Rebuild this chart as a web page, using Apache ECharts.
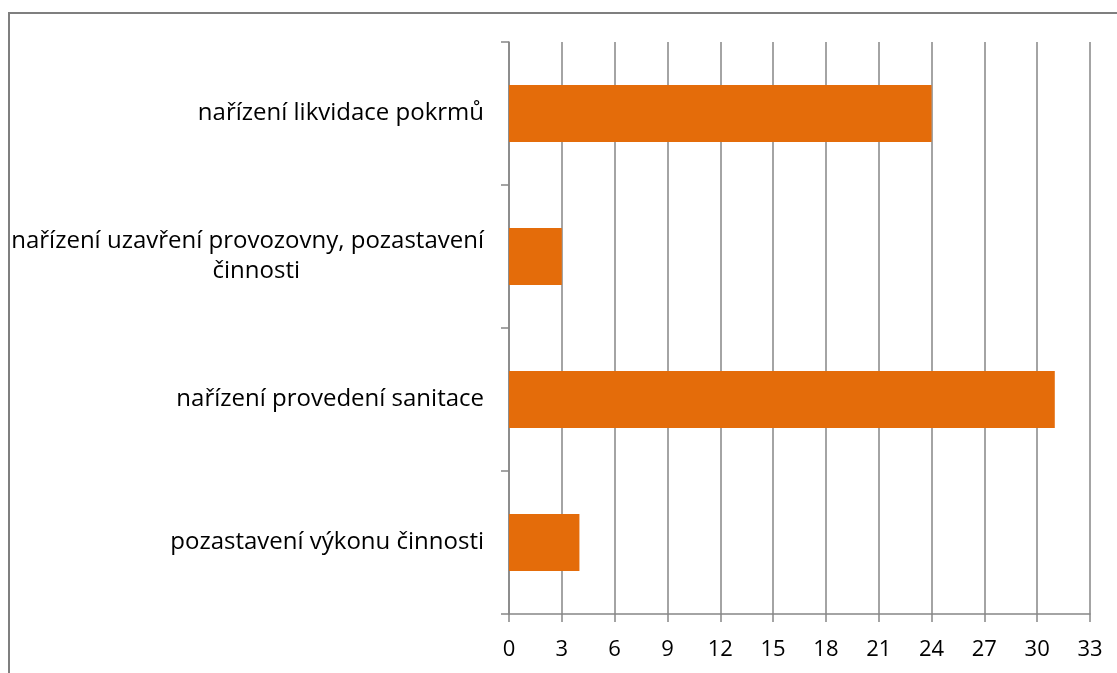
<!DOCTYPE html>
<html>
<head>
<meta charset="utf-8">
<script src="https://cdn.jsdelivr.net/npm/echarts@6/dist/echarts.min.js"></script>
<style>
html,body{margin:0;padding:0;background:#fff;}
#c{width:1117px;height:673px;}
</style>
</head>
<body>
<div id="c"></div>
<script>
const categories = [
  'pozastavení výkonu činnosti',
  'nařízení provedení sanitace',
  'nařízení uzavření provozovny, pozastavení\nčinnosti',
  'nařízení likvidace pokrmů'
];
const values = [4, 31, 3, 24];
const xMin = 0, xMax = 33, xStep = 3;

const chart = echarts.init(document.getElementById('c'));
const gray = '#868686';
const font = '"Open Sans", sans-serif';
chart.setOption({
  animation: false,
  graphic: [{
    type: 'rect',
    shape: {x: 9, y: 13, width: 1300, height: 1000},
    style: {fill: 'none', stroke: '#7f7f7f', lineWidth: 2},
    silent: true, z: -1
  }],
  grid: {left: 509, right: 27, top: 42, bottom: 59, containLabel: false},
  xAxis: {
    type: 'value', min: xMin, max: xMax, interval: xStep,
    axisLine: {show: true, lineStyle: {color: gray, width: 1.5}},
    axisTick: {show: true, length: 8, lineStyle: {color: gray, width: 1.5}},
    splitLine: {show: true, lineStyle: {color: gray, width: 1.5}},
    axisLabel: {color: '#000', fontFamily: font, fontSize: 22, margin: 25}
  },
  yAxis: {
    type: 'category', data: categories,
    axisLine: {show: true, lineStyle: {color: gray, width: 1.5}},
    axisTick: {show: true, length: 8, lineStyle: {color: gray, width: 1.5}},
    axisLabel: {
      color: '#000', fontFamily: font, fontSize: 24, margin: 25, lineHeight: 30,
      formatter: function (v) {
        const parts = v.split('\n');
        if (parts.length === 1) return v;
        return '{a|' + parts[0] + '}\n{b|' + parts[1] + '}';
      },
      rich: {
        a: {fontFamily: font, fontSize: 24, color: '#000', lineHeight: 30},
        b: {fontFamily: font, fontSize: 24, color: '#000', lineHeight: 30, padding: [0, 184, 0, 0]}
      }
    }
  },
  series: [{
    type: 'bar', data: values, barCategoryGap: '60%',
    itemStyle: {color: '#E46C0A'}
  }]
});
</script>
</body>
</html>
